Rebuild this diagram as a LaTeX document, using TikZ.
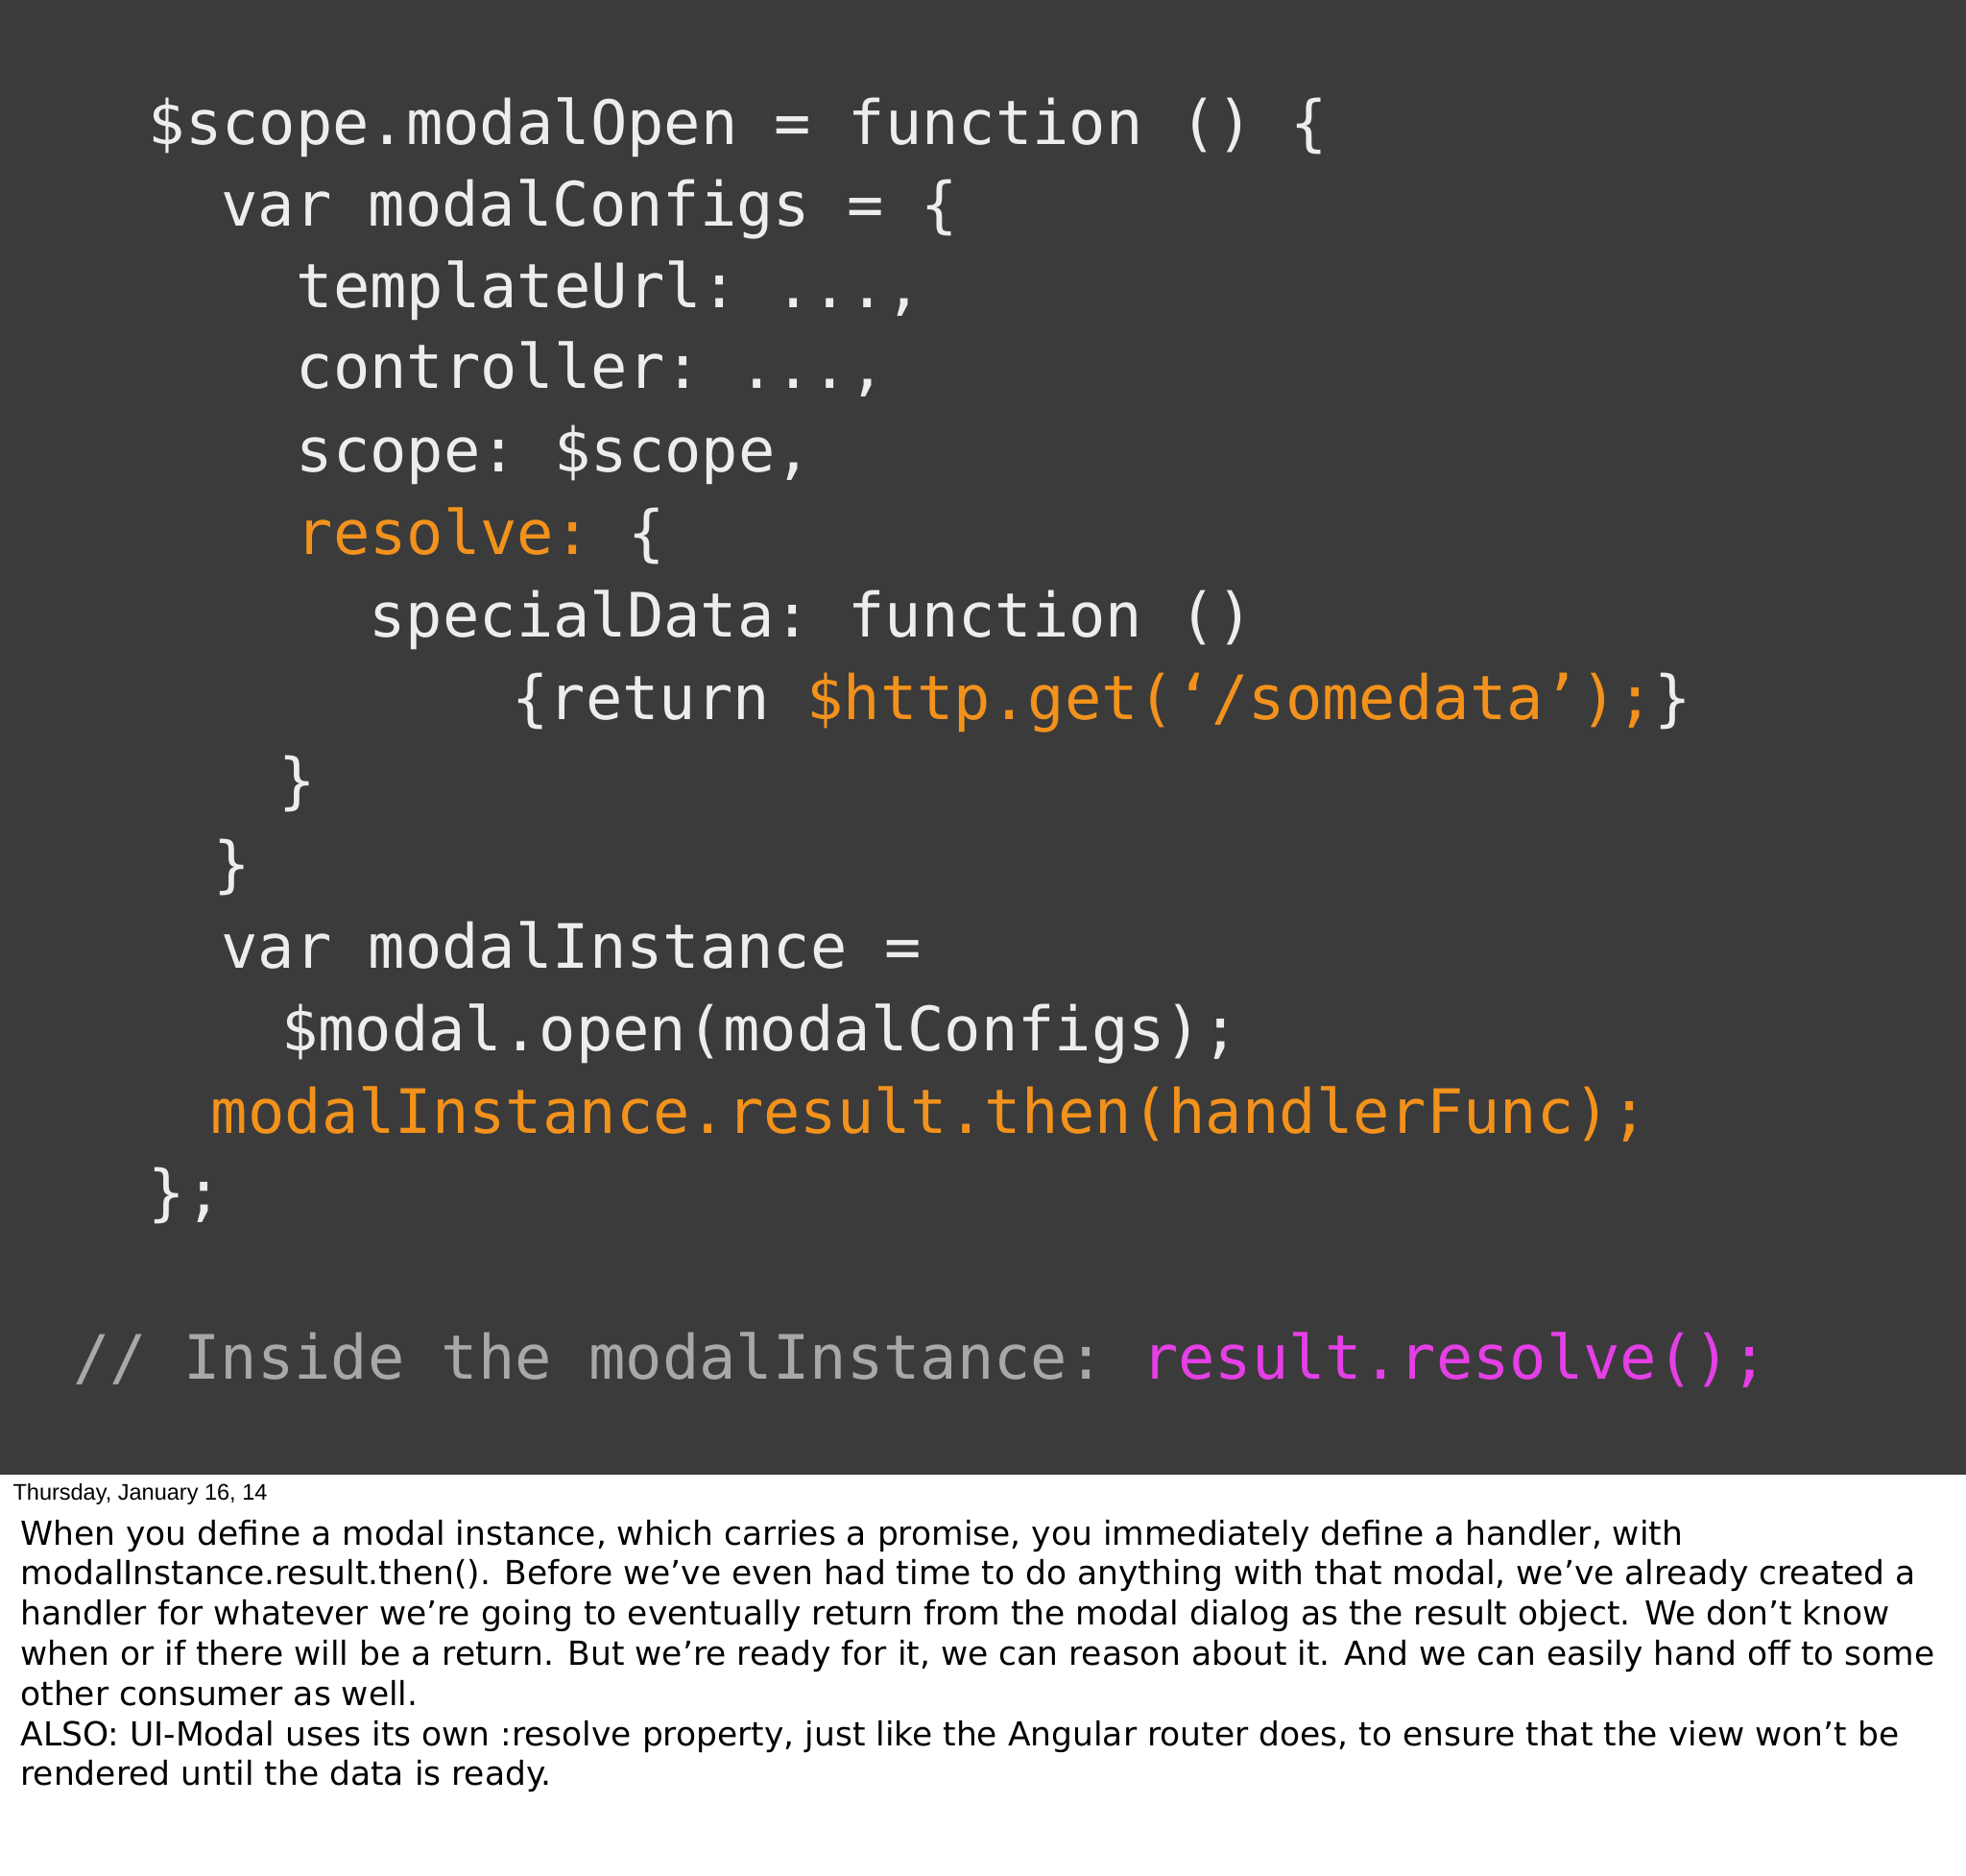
\documentclass[tikz,border=0pt]{standalone}
\usepackage{fontspec}
\setmonofont{DejaVu Sans Mono}
\setsansfont{DejaVu Sans}
\newfontfamily\datefont{Liberation Sans}
\definecolor{bg}{HTML}{3B3B3B}
\definecolor{codew}{HTML}{EDEDED}
\definecolor{org}{HTML}{F2921C}
\definecolor{mag}{HTML}{E53FE6}
\definecolor{cmt}{HTML}{A8A8A8}
\tikzset{code/.style={anchor=base west,inner sep=0pt,text=codew,font=\ttfamily\fontsize{24.4}{24.4}\selectfont},
note/.style={anchor=base west,inner sep=0pt,text=black,font=\sffamily\fontsize{13.2}{14}\selectfont},
date/.style={anchor=base west,inner sep=0pt,text=black,font=\datefont\fontsize{9}{10}\selectfont}}
\begin{document}
\begin{tikzpicture}[x=0.5pt,y=-0.5pt]
\useasboundingbox (0,0) rectangle (1568,1496);
\fill[white] (0,0) rectangle (1568,1496);
\fill[bg] (0,0) rectangle (1568,1176);
\node[code] (l1) at (118,115) {\$scope.modalOpen = function () \{};
\node[code] (l2) at (176,180) {var modalConfigs = \{};
\node[code] (l3) at (236,245) {templateUrl: ...,};
\node[code] (l4) at (236,310) {controller: ...,};
\node[code] (l5) at (236,376) {scope: \$scope,};
\node[code] (l6) at (236,442) {\textcolor{org}{resolve:} \{};
\node[code] (l7) at (294,508) {specialData: function ()};
\node[code] (l8) at (408,574) {\{return \textcolor{org}{\$http.get(‘/somedata’);}\}};
\node[code] (l9) at (222,640) {\}};
\node[code] (l10) at (170,706) {\}};
\node[code] (l11) at (176,772) {var modalInstance =};
\node[code] (l12) at (224,838) {\$modal.open(modalConfigs);};
\node[code,text=org] (l13) at (168,904) {modalInstance.result.then(handlerFunc);};
\node[code] (l14) at (118,968) {\};};
\node[code,text=cmt] (l15) at (58,1100) {// Inside the modalInstance: \textcolor{mag}{result.resolve();}};
\node[date] (d) at (10,1196) {Thursday, January 16, 14};
\node[note] (n1) at (16,1232) {When you define a modal instance, which carries a promise, you immediately define a handler, with};
\node[note] (n2) at (16,1264) {modalInstance.result.then(). Before we’ve even had time to do anything with that modal, we’ve already created a};
\node[note] (n3) at (16,1296) {handler for whatever we’re going to eventually return from the modal dialog as the result object. We don’t know};
\node[note] (n4) at (16,1328) {when or if there will be a return. But we’re ready for it, we can reason about it. And we can easily hand off to some};
\node[note] (n5) at (16,1360) {other consumer as well.};
\node[note] (n6) at (16,1392) {ALSO: UI-Modal uses its own :resolve property, just like the Angular router does, to ensure that the view won’t be};
\node[note] (n7) at (16,1424) {rendered until the data is ready.};
\end{tikzpicture}
\end{document}
